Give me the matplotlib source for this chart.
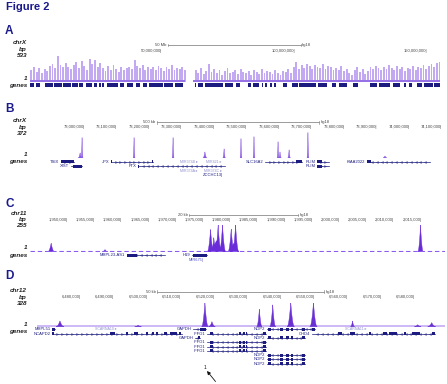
import matplotlib

matplotlib.use("Agg")

import matplotlib.pyplot as plt
import numpy as np
from matplotlib.patches import FancyArrowPatch

plt.rcParams["font.family"] = ["Liberation Sans", "DejaVu Sans"]

W, H = 447, 384
NAVY = "#1a1a8c"
GENE = "#1c1c80"
GREY_GENE = "#9090cc"
TICK = "#444444"

# ---------------- panel A : chrX, whole chromosome (Mb)
a_left_mb = np.arange(0.5, 59.0, 1.0)
a_left_val = [216, 270, 180, 252, 162, 234, 198,
              288, 324, 252, 468, 306, 270, 342,
              270, 234, 306, 360, 252, 378, 288, 216,
              414, 324, 396, 270, 342,
              252, 198, 288, 216, 306, 234, 180, 270, 216, 252,
              270, 234, 396, 288, 252, 306, 216, 270,
              234, 270, 216, 288, 252, 198, 270, 234, 306, 216, 252, 234, 270, 216]
a_right_mb = np.arange(62.5, 155.0, 1.0)
a_right_val = [216, 162, 252, 144, 198, 324, 180, 234, 162, 216, 126, 198, 252,
               162, 180, 216, 144, 234, 180, 162, 198, 126, 216, 180, 144, 234,
               162, 198, 180, 144, 216, 162, 126, 198, 180, 234, 162,
               270, 360, 234, 306, 252, 324, 288, 234, 306, 270, 252, 324, 234, 288, 270, 216,
               252, 216, 288, 198, 234, 162, 126, 216, 270, 180, 234, 144, 198,
               270, 234, 288, 252, 216, 270, 234, 306, 252, 216, 288, 234, 270,
               198, 252, 234, 288, 216, 270, 252, 306, 234, 288, 324, 270, 342, 360]
a_gene_start = [0.0, 2.2, 5.7, 9.2, 12.6, 16.0, 18.6, 21.1, 24.0, 26.2, 27.2, 29.0,
                34.0, 36.5, 40.0, 42.6, 45.0, 50.6, 54.6,
                62.3, 63.5, 66.0, 73.6, 77.7, 82.3, 84.2, 87.5, 88.8, 90.5, 92.0,
                95.5, 98.9, 101.6, 108.7, 114.0, 116.7, 121.9, 128.3, 131.6, 136.8,
                141.0, 143.0, 146.0, 148.8, 152.6]
a_gene_end = [1.5, 3.8, 8.5, 12.0, 15.4, 18.0, 20.0, 23.5, 25.3, 26.8, 28.0, 33.2,
              35.5, 38.9, 41.5, 44.0, 50.0, 54.0, 57.7,
              62.8, 65.3, 73.0, 76.6, 79.2, 83.5, 86.5, 88.0, 89.4, 91.2, 92.8,
              97.0, 101.0, 108.0, 112.0, 115.5, 119.6, 123.8, 131.0, 136.0, 139.6,
              142.0, 144.0, 148.0, 152.0, 154.7]
a_ticks_bp = [50000000, 100000000, 150000000]

# ---------------- panel B : chrX ~73 Mb (Mb)
b_ticks_bp = [73000000, 73100000, 73200000, 73300000, 73400000, 73500000,
              73600000, 73700000, 73800000, 73900000, 74000000, 74100000]
b_peak_mb = [72.985, 72.991, 73.151, 73.271, 73.369, 73.428, 73.480,
             73.520, 73.594, 73.600, 73.628, 73.686, 73.923]
b_peak_val = [75, 298, 298, 298, 89, 134, 283, 312, 238, 89, 119, 372, 30]
b_peak_hw = [0.006, 0.003, 0.003, 0.003, 0.006, 0.004, 0.003,
             0.003, 0.003, 0.004, 0.004, 0.003, 0.006]
b_gene_name = ["TSIX", "XIST", "JPX", "FTX", "SLC16A2", "RLIM", "RLIM", "KIAA2022"]
b_gene_row = [0, 1, 0, 1, 0, 0, 1, 0]
b_gene_start = [72.926, 72.956, 73.080, 73.163, 73.554, 73.714, 73.714, 73.868]
b_gene_end = [72.966, 72.990, 73.209, 73.431, 73.668, 73.751, 73.751, 74.062]
b_gene_exons = [[(72.926, 72.966)], [(72.962, 72.990)], [(73.080, 73.083), (73.206, 73.209)],
                [(73.163, 73.166)], [(73.650, 73.668)], [(73.714, 73.730)],
                [(73.714, 73.730)], [(73.868, 73.880)]]
b_gene_dir = [">", ">", ">", "<", ">", ">", ">", "<"]
b_mir_name = ["MIR374B", "MIR421", "MIR374A", "MIR374C"]
b_mir_row = [0, 0, 2, 2]
b_mir_mb = [73.347, 73.421, 73.347, 73.421]
b_extra_name = ["ZCCHC13"]
b_extra_row = [3]
b_extra_mb = [73.424]

# ---------------- panel C : chr11 ~1.98 Mb (kb)
c_ticks_bp = [1950000, 1955000, 1960000, 1965000, 1970000, 1975000, 1980000,
              1985000, 1990000, 1995000, 2000000, 2005000, 2010000, 2015000]
c_peak_kb = [1946.9, 1956.8, 1977.3, 1980.4, 1976.2, 1976.8, 1977.6,
             1978.4, 1980.0, 1980.8, 2014.8]
c_peak_val = [81, 20, 105, 80, 213, 134, 255, 255, 216, 255, 255]
c_peak_hw = [0.6, 0.5, 2.0, 1.0, 0.6, 0.5, 0.6, 0.6, 0.6, 0.6, 0.5]
c_gene_name = ["MRPL23-AS1", "H19"]
c_gene_row = [0, 0]
c_gene_start = [1960.8, 1972.8]
c_gene_end = [1967.8, 1975.6]
c_gene_exons = [[(1960.8, 1962.7)], [(1973.0, 1975.5)]]
c_gene_dir = ["<", "<"]
c_mir_name = ["MIR675"]
c_mir_row = [1]
c_mir_kb = [1973.6]

# ---------------- panel D : chr12 ~6.52 Mb (kb)
d_ticks_bp = [6480000, 6490000, 6500000, 6510000, 6520000, 6530000,
              6540000, 6550000, 6560000, 6570000, 6580000]
d_peak_kb = [6473.7, 6497.1, 6517.1, 6519.2, 6533.4, 6537.4,
             6542.8, 6549.6, 6561.3, 6580.8, 6585.0]
d_peak_val = [78, 20, 328, 68, 238, 296, 328, 328, 78, 27, 55]
d_peak_hw = [1.2, 1.0, 1.0, 1.0, 0.8, 0.9, 1.1, 1.1, 0.6, 1.0, 1.2]
nop2_exons = [(6536.0, 6536.9), (6539.6, 6540.5), (6541.4, 6542.2), (6542.8, 6543.5),
              (6546.2, 6547.1)]
iffo1_exons = [(6518.6, 6519.5), (6527.3, 6527.9), (6528.4, 6529.0), (6529.4, 6529.8),
               (6534.5, 6535.4)]
d_gene_name = ["MRPL51", "NCAPD2", "GAPDH", "GAPDH", "IFFO1", "IFFO1", "IFFO1",
               "IFFO1", "NOP2", "NOP2", "NOP2", "NOP2", "NOP2", "CHD4"]
d_gene_row = [0, 1, 0, 2, 1, 3, 4, 5, 0, 2, 6, 7, 8, 1]
d_gene_start = [6471.3, 6471.3, 6513.5, 6514.1, 6517.7, 6517.7, 6517.7, 6517.7,
                6535.7, 6535.7, 6535.7, 6535.7, 6535.7, 6549.2]
d_gene_end = [6472.2, 6510.2, 6517.4, 6515.6, 6535.4, 6535.4, 6535.4, 6535.4,
              6550.1, 6547.1, 6547.1, 6547.1, 6547.1, 6586.0]
d_gene_exons = [[(6471.3, 6472.2)],
                [(6471.3, 6471.9), (6488.7, 6490.2), (6493.5, 6494.1), (6495.9, 6497.1),
                 (6499.6, 6500.0), (6501.4, 6501.8), (6502.6, 6503.0), (6504.9, 6505.7),
                 (6506.6, 6508.7), (6509.4, 6509.8)],
                [(6515.6, 6517.4)], [(6514.9, 6515.6)],
                iffo1_exons, iffo1_exons, iffo1_exons, iffo1_exons,
                nop2_exons + [(6549.3, 6550.1)], nop2_exons, nop2_exons, nop2_exons,
                nop2_exons,
                [(6557.0, 6558.1), (6560.5, 6562.0), (6566.3, 6566.8), (6570.4, 6571.5),
                 (6572.2, 6574.6), (6576.8, 6577.3), (6579.1, 6581.5), (6585.2, 6586.0)]]
d_gene_dir = [">", ">", "<", "<", "<", "<", "<", "<", "<", "<", "<", "<", "<", "<"]
d_mir_name = ["SCARNA10 ▸", "SCARNA11 ▸"]
d_mir_row = [0, 0]
d_mir_kb = [6484.2, 6559.0]

fig = plt.figure(figsize=(W / 100, H / 100), dpi=100)
fig.patch.set_facecolor("white")


def fig_ax(x0, y0, x1, y1):
    ax = fig.add_axes([x0 / W, 1 - y1 / H, (x1 - x0) / W, (y1 - y0) / H])
    ax.set_axis_off()
    return ax


def ftext(x, y, s, **kw):
    fig.text(x / W, 1 - y / H, s, **kw)


def side_labels(chrom, top, ys):
    names = [chrom, "bp", top, "1", "genes"]
    for name, y in zip(names, ys):
        ftext(27, y, name, ha="right", va="center", fontsize=4.6, fontweight="bold",
              fontstyle="italic", color="#222222")


def ruler(xlim, y_bar, y_tick, bar_start, bar_len, bar_label, ticks, scale):
    ax = fig_ax(30, y_bar - 3, 445, y_tick + 3)
    ax.set_xlim(*xlim)
    ax.set_ylim(y_tick + 3, y_bar - 3)
    x0, x1 = bar_start, bar_start + bar_len
    ax.plot([x0, x1], [y_bar, y_bar], color="#8c8c8c", lw=0.6)
    for x in (x0, x1):
        ax.plot([x, x], [y_bar - 1.2, y_bar + 1.2], color="#8c8c8c", lw=0.5)
    dx = (xlim[1] - xlim[0]) / 415
    ax.text(x0 - 1.5 * dx, y_bar, bar_label, ha="right", va="center",
            fontsize=3, color=TICK)
    ax.text(x1 + 1.5 * dx, y_bar, "hg18", ha="left", va="center",
            fontsize=3, color=TICK)
    for bp in ticks:
        ax.text(bp / scale, y_tick, f"{bp:,}|", ha="right", va="center",
                fontsize=3, color=TICK)


def spikes(ax, centers, heights, widths, color):
    t = np.linspace(-1, 1, 41)
    for c, h, w in zip(centers, heights, widths):
        ax.fill(c + w * t, h * (1 - np.abs(t)) ** 2, color=color, lw=0.3, ec=color)


def genes(ax, names, rows, starts, ends, exons, dirs, color=GENE):
    span = ax.get_xlim()[1] - ax.get_xlim()[0]
    for name, r, s, e, ex, d in zip(names, rows, starts, ends, exons, dirs):
        ax.plot([s, e], [r, r], color=color, lw=0.5)
        n = int((e - s) / span * 415 / 5)
        if n > 0:
            xs = np.linspace(s, e, n + 2)[1:-1]
            ax.plot(xs, [r] * len(xs), ls="none", marker=d, ms=1.4, mew=0.3,
                    mfc="none", mec=color)
        ax.broken_barh([(a, b - a) for a, b in ex], (r - 0.35, 0.7), color=color, lw=0)
        ax.text(s - span * 0.004, r, name, ha="right", va="center", fontsize=3,
                color=color)


# ---------------- title and panel letters
ftext(6, 7, "Figure 2", ha="left", va="center", fontsize=8, fontweight="bold", color=NAVY)
for letter, y in zip("ABCD", [31, 109, 204, 276]):
    ftext(5, y, letter, ha="left", va="center", fontsize=8.5, fontweight="bold", color=NAVY)

# ---------------- panel A
a_xlim = (0, 156.6)
side_labels("chrX", "533", [42.7, 49.5, 55.5, 78.3, 85.3])
ruler(a_xlim, 45, 51, 52.1, 50, "50 Mb", a_ticks_bp, 1e6)
ax = fig_ax(30, 52, 445, 81.5)
ax.set_xlim(*a_xlim)
ax.set_ylim(0, 533)
ax.bar(a_left_mb, a_left_val, width=0.7, color="#c3a9f2", lw=0)
ax.bar(a_right_mb, a_right_val, width=0.7, color="#c3a9f2", lw=0)
ax.plot([0, 58.5], [8, 8], color="#9670e6", lw=1.4, solid_capstyle="butt")
ax.plot([61.5, 154.9], [8, 8], color="#9670e6", lw=1.4, solid_capstyle="butt")
ax = fig_ax(30, 83, 445, 87.6)
ax.set_xlim(*a_xlim)
ax.set_ylim(0.5, -0.5)
ax.broken_barh([(s, e - s) for s, e in zip(a_gene_start, a_gene_end)], (-0.45, 0.9),
               color=GENE, lw=0)

# ---------------- panel B
b_xlim = (72.8308, 74.1077)
side_labels("chrX", "372", [120, 127.3, 133.2, 155, 161.7])
ruler(b_xlim, 122.3, 127.3, 73.2215, 0.5, "500 kb", b_ticks_bp, 1e6)
ax = fig_ax(30, 132.5, 445, 158)
ax.set_xlim(*b_xlim)
ax.set_ylim(0, 372)
ax.plot(b_xlim, [3, 3], color="#a68bf0", lw=0.7, dashes=(1.5, 1.5))
spikes(ax, b_peak_mb, b_peak_val, b_peak_hw, "#8a58e0")
ax = fig_ax(30, 159.8, 445, 177.2)
ax.set_xlim(*b_xlim)
ax.set_ylim(3.5, -0.5)
genes(ax, b_gene_name, b_gene_row, b_gene_start, b_gene_end, b_gene_exons, b_gene_dir)
for name, r, x in zip(b_mir_name, b_mir_row, b_mir_mb):
    ax.text(x, r, name + " ▸", ha="right", va="center", fontsize=2.6, color=GREY_GENE)
for name, r, x in zip(b_extra_name, b_extra_row, b_extra_mb):
    ax.text(x, r, name + "|", ha="right", va="center", fontsize=3, color=GENE)

# ---------------- panel C
c_xlim = (1943.01, 2019.30)
side_labels("chr11", "255", [213.3, 219.8, 225.5, 247.5, 255])
ruler(c_xlim, 215, 220.5, 1972.24, 20, "20 kb", c_ticks_bp, 1e3)
ax = fig_ax(30, 225, 445, 251.7)
ax.set_xlim(*c_xlim)
ax.set_ylim(0, 255)
ax.plot(c_xlim, [3, 3], color="#8c5cf0", lw=0.8, dashes=(4, 2.5))
spikes(ax, c_peak_kb, c_peak_val, c_peak_hw, "#6a2cd8")
ax = fig_ax(30, 253.2, 445, 262.3)
ax.set_xlim(*c_xlim)
ax.set_ylim(1.5, -0.5)
genes(ax, c_gene_name, c_gene_row, c_gene_start, c_gene_end, c_gene_exons, c_gene_dir)
for name, r, x in zip(c_mir_name, c_mir_row, c_mir_kb):
    ax.text(x, r, name + "|", ha="center", va="center", fontsize=2.8, color="#4a4ad0")

# ---------------- panel D
d_xlim = (6464.73, 6588.98)
side_labels("chr12", "328", [290, 297.3, 303.3, 324.3, 331.7])
ruler(d_xlim, 291.7, 297.3, 6502.75, 50, "50 kb", d_ticks_bp, 1e3)
ax = fig_ax(30, 302.5, 445, 326.7)
ax.set_xlim(*d_xlim)
ax.set_ylim(0, 328)
ax.axhspan(0, 22, xmin=0.018, color="#cdb9f6", lw=0)
spikes(ax, d_peak_kb, d_peak_val, d_peak_hw, "#6a30d4")
ax = fig_ax(30, 327.2, 445, 365.9)
ax.set_xlim(*d_xlim)
ax.set_ylim(8.5, -0.5)
genes(ax, d_gene_name, d_gene_row, d_gene_start, d_gene_end, d_gene_exons, d_gene_dir)
for name, r, x in zip(d_mir_name, d_mir_row, d_mir_kb):
    ax.text(x, r, name, ha="left", va="center", fontsize=2.6, color=GREY_GENE)

# ---------------- annotation arrow
ftext(205, 367.5, "1", ha="center", va="center", fontsize=3.5, color="#111111")
fig.add_artist(FancyArrowPatch(posA=(215.5 / W, 1 - 381.5 / H), posB=(207 / W, 1 - 371 / H),
                               transform=fig.transFigure, arrowstyle="-|>",
                               mutation_scale=5, lw=0.6, color="#111111",
                               shrinkA=0, shrinkB=0))

fig.savefig("out.png", dpi=100, facecolor="white")
